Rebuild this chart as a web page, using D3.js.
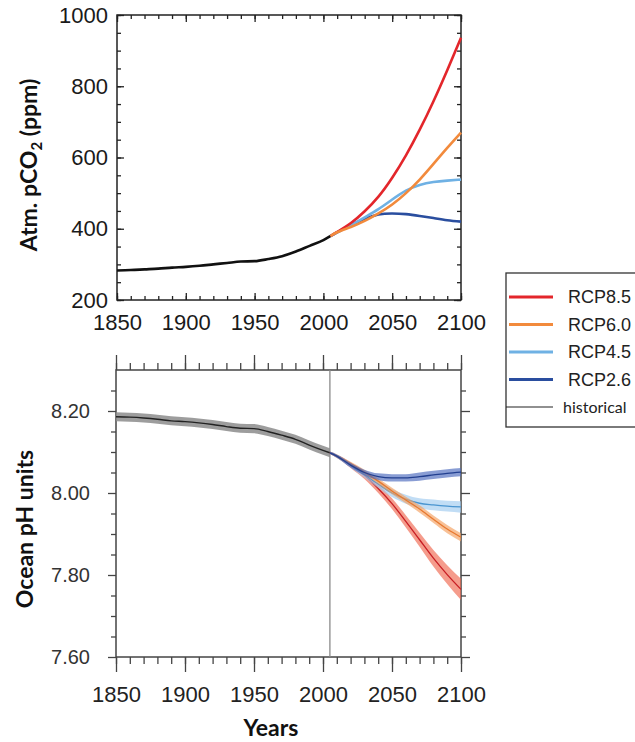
<!DOCTYPE html>
<html>
<head>
<meta charset="utf-8">
<script src="https://cdn.jsdelivr.net/npm/d3@7"></script>
<style>
  body { margin: 0; background: #fff; }
  svg { display: block; }
  .tick text { font-family: "Liberation Sans", Arial, sans-serif; }
  .title { font-family: Lato, "Open Sans", sans-serif; font-weight: bold; fill: #111; }
</style>
</head>
<body>
<svg id="chart" width="635" height="742"></svg>
<script>
// ---- data ----
const histYears = [1850, 1860, 1870, 1880, 1890, 1900, 1910, 1920, 1930, 1940, 1950, 1960, 1970, 1980, 1990, 2000, 2005];
const histCO2   = [283, 284, 286, 288, 291, 293, 296, 300, 304, 308, 309, 315, 323, 336, 352, 368, 379];
const histPH    = [8.186, 8.185, 8.183, 8.180, 8.176, 8.174, 8.171, 8.167, 8.162, 8.158, 8.157, 8.150, 8.141, 8.131, 8.117, 8.104, 8.098];
const histPHband = [0.011, 0.011, 0.011, 0.011, 0.011, 0.011, 0.011, 0.011, 0.011, 0.011, 0.011, 0.011, 0.011, 0.011, 0.011, 0.011, 0.011];

const projYears = [2005, 2010, 2020, 2030, 2040, 2050, 2060, 2070, 2080, 2090, 2100];

const co2_rcp85 = [379, 391, 416, 449, 490, 543, 606, 678, 758, 845, 936];
const co2_rcp60 = [379, 390, 405, 422, 443, 468, 500, 538, 582, 627, 670];
const co2_rcp45 = [379, 390, 410, 432, 455, 482, 507, 523, 531, 535, 538];
const co2_rcp26 = [379, 390, 410, 428, 440, 443, 441, 436, 430, 424, 420];

const ph_rcp85 = [8.098, 8.090, 8.068, 8.043, 8.011, 7.974, 7.931, 7.886, 7.841, 7.801, 7.765];
const ph_rcp60 = [8.098, 8.090, 8.071, 8.051, 8.029, 8.005, 7.983, 7.961, 7.936, 7.912, 7.892];
const ph_rcp45 = [8.098, 8.090, 8.068, 8.045, 8.022, 8.000, 7.985, 7.975, 7.971, 7.968, 7.966];
const ph_rcp26 = [8.098, 8.090, 8.068, 8.050, 8.040, 8.037, 8.037, 8.040, 8.044, 8.048, 8.051];

const band_rcp85 = [0.003, 0.004, 0.007, 0.009, 0.011, 0.013, 0.015, 0.017, 0.020, 0.023, 0.026];
const band_rcp60 = [0.003, 0.004, 0.005, 0.006, 0.007, 0.008, 0.008, 0.009, 0.009, 0.010, 0.010];
const band_rcp45 = [0.003, 0.004, 0.006, 0.008, 0.009, 0.010, 0.011, 0.012, 0.013, 0.013, 0.014];
const band_rcp26 = [0.003, 0.004, 0.006, 0.007, 0.008, 0.009, 0.009, 0.010, 0.010, 0.010, 0.010];

const scenarios = ["RCP8.5", "RCP6.0", "RCP4.5", "RCP2.6"];
const lineColors = ["#e3262b", "#f28a3c", "#6fb1e4", "#2a4e9f"];
const bandColors = ["#f0674f", "#f5a060", "#9fcbef", "#4a68bd"];
const phLineColors = ["#c81e24", "#e8782e", "#4a95d0", "#223f8f"];

const co2Series = [co2_rcp85, co2_rcp60, co2_rcp45, co2_rcp26];
const phSeries = [ph_rcp85, ph_rcp60, ph_rcp45, ph_rcp26];
const phBands = [band_rcp85, band_rcp60, band_rcp45, band_rcp26];

const legendNames = scenarios.concat(["historical"]);

const svg = d3.select("#chart");

// ---------------- top panel: atmospheric pCO2 ----------------
let topBox = {left: 117, right: 461, top: 15, bottom: 300};
let xTop = d3.scaleLinear().domain([1850, 2100]).range([topBox.left, topBox.right]);
let yTop = d3.scaleLinear().domain([200, 1000]).range([topBox.bottom, topBox.top]);

let gTop = svg.append("g");

let minorYears = d3.range(1850, 2101, 10);
let majorYears = d3.range(1850, 2101, 50);

function tickAxis(g, axis, color) {
    g.call(axis);
    g.select(".domain").remove();
    g.selectAll(".tick line").attr("stroke", color).attr("stroke-width", 1.3);
    return g;
}

// minor ticks inward
tickAxis(gTop.append("g").attr("transform", "translate(0," + topBox.bottom + ")"),
    d3.axisBottom(xTop).tickValues(minorYears).tickSize(-4).tickFormat(""), "#222");
tickAxis(gTop.append("g").attr("transform", "translate(0," + topBox.top + ")"),
    d3.axisTop(xTop).tickValues(minorYears).tickSize(-4).tickFormat(""), "#222");
tickAxis(gTop.append("g").attr("transform", "translate(" + topBox.left + ",0)"),
    d3.axisLeft(yTop).tickValues(d3.range(200, 1001, 50)).tickSize(-4).tickFormat(""), "#222");
tickAxis(gTop.append("g").attr("transform", "translate(" + topBox.right + ",0)"),
    d3.axisRight(yTop).tickValues(d3.range(200, 1001, 50)).tickSize(-4).tickFormat(""), "#222");

// major ticks + labels
let xAxisTop = tickAxis(gTop.append("g").attr("transform", "translate(0," + topBox.bottom + ")"),
    d3.axisBottom(xTop).tickValues(majorYears).tickSize(-7).tickPadding(14).tickFormat(d3.format("d")), "#222");
let yAxisTop = tickAxis(gTop.append("g").attr("transform", "translate(" + topBox.left + ",0)"),
    d3.axisLeft(yTop).tickValues(d3.range(200, 1001, 200)).tickSize(-7).tickPadding(9).tickFormat(d3.format("d")), "#222");
tickAxis(gTop.append("g").attr("transform", "translate(" + topBox.right + ",0)"),
    d3.axisRight(yTop).tickValues(d3.range(200, 1001, 200)).tickSize(-7).tickFormat(""), "#222");
tickAxis(gTop.append("g").attr("transform", "translate(0," + topBox.top + ")"),
    d3.axisTop(xTop).tickValues(majorYears).tickSize(-7).tickFormat(""), "#222");

xAxisTop.selectAll("text").attr("font-size", 22).attr("fill", "#1a1a1a");
yAxisTop.selectAll("text").attr("font-size", 22).attr("fill", "#1a1a1a");

gTop.append("rect")
    .attr("x", topBox.left).attr("y", topBox.top)
    .attr("width", topBox.right - topBox.left).attr("height", topBox.bottom - topBox.top)
    .attr("fill", "none").attr("stroke", "#222").attr("stroke-width", 1.5);

let lineTop = d3.line().curve(d3.curveNatural)
    .x(d => xTop(d[0])).y(d => yTop(d[1]));

// draw order as in the picture: 2.6, 4.5, 8.5, 6.0
[3, 2, 0, 1].forEach(function(i) {
    gTop.append("path")
        .datum(projYears.map((y, j) => [y, co2Series[i][j]]))
        .attr("d", lineTop)
        .attr("fill", "none")
        .attr("stroke", lineColors[i])
        .attr("stroke-width", 2.6);
});

gTop.append("path")
    .datum(histYears.map((y, j) => [y, histCO2[j]]))
    .attr("d", d3.line().curve(d3.curveMonotoneX).x(d => xTop(d[0])).y(d => yTop(d[1])))
    .attr("fill", "none")
    .attr("stroke", "#111")
    .attr("stroke-width", 2.6);

let co2Label = gTop.append("text")
    .attr("class", "title")
    .attr("transform", "translate(37,165) rotate(-90)")
    .attr("text-anchor", "middle")
    .attr("font-size", 23);
co2Label.append("tspan").text("Atm. pCO");
co2Label.append("tspan").attr("font-size", 15).attr("dy", 5).text("2");
co2Label.append("tspan").attr("dy", -5).text(" (ppm)");

// ---------------- bottom panel: ocean pH ----------------
let botBox = {left: 116, right: 461, top: 370, bottom: 657};
let xBot = d3.scaleLinear().domain([1850, 2100]).range([botBox.left, botBox.right]);
let yBot = d3.scaleLinear().domain([7.6, 8.3]).range([botBox.bottom, botBox.top]);

let gBot = svg.append("g");
let axisColor = "#444";
let phMinor = [7.65, 7.70, 7.75, 7.85, 7.90, 7.95, 8.05, 8.10, 8.15, 8.25];
let phMajor = [7.6, 7.8, 8.0, 8.2];

tickAxis(gBot.append("g").attr("transform", "translate(0," + botBox.bottom + ")"),
    d3.axisBottom(xBot).tickValues(minorYears).tickSize(7).tickFormat(""), axisColor);
tickAxis(gBot.append("g").attr("transform", "translate(0," + botBox.top + ")"),
    d3.axisTop(xBot).tickValues(minorYears).tickSize(7).tickFormat(""), axisColor);
tickAxis(gBot.append("g").attr("transform", "translate(" + botBox.left + ",0)"),
    d3.axisLeft(yBot).tickValues(phMinor).tickSize(5).tickFormat(""), axisColor);
tickAxis(gBot.append("g").attr("transform", "translate(" + botBox.right + ",0)"),
    d3.axisRight(yBot).tickValues(phMinor).tickSize(5).tickFormat(""), axisColor);

let xAxisBot = tickAxis(gBot.append("g").attr("transform", "translate(0," + botBox.bottom + ")"),
    d3.axisBottom(xBot).tickValues(majorYears).tickSize(15).tickPadding(14).tickFormat(d3.format("d")), axisColor);
tickAxis(gBot.append("g").attr("transform", "translate(0," + botBox.top + ")"),
    d3.axisTop(xBot).tickValues(majorYears).tickSize(15).tickFormat(""), axisColor);
let yAxisBot = tickAxis(gBot.append("g").attr("transform", "translate(" + botBox.left + ",0)"),
    d3.axisLeft(yBot).tickValues(phMajor).tickSize(8).tickPadding(18).tickFormat(d3.format(".2f")), axisColor);
tickAxis(gBot.append("g").attr("transform", "translate(" + botBox.right + ",0)"),
    d3.axisRight(yBot).tickValues(phMajor).tickSize(9).tickFormat(""), axisColor);

xAxisBot.selectAll("text").attr("font-size", 22).attr("fill", "#222");
yAxisBot.selectAll("text").attr("font-size", 20).attr("fill", "#333");

gBot.append("rect")
    .attr("x", botBox.left).attr("y", botBox.top)
    .attr("width", botBox.right - botBox.left).attr("height", botBox.bottom - botBox.top)
    .attr("fill", "none").attr("stroke", axisColor).attr("stroke-width", 1.5);

// start of the projections
gBot.append("line")
    .attr("x1", xBot(2005)).attr("x2", xBot(2005))
    .attr("y1", botBox.top).attr("y2", botBox.bottom)
    .attr("stroke", "#8a8a8a").attr("stroke-width", 1.3);

let areaBot = d3.area().curve(d3.curveMonotoneX)
    .x(d => xBot(d[0])).y0(d => yBot(d[1] - d[2])).y1(d => yBot(d[1] + d[2]));
let lineBot = d3.line().curve(d3.curveMonotoneX)
    .x(d => xBot(d[0])).y(d => yBot(d[1]));

// historical
let histData = histYears.map((y, j) => [y, histPH[j], histPHband[j]]);
gBot.append("path").datum(histData).attr("d", areaBot)
    .attr("fill", "#8c8c8c").attr("fill-opacity", 0.85);
gBot.append("path").datum(histData).attr("d", lineBot)
    .attr("fill", "none").attr("stroke", "#222").attr("stroke-width", 1.4);

[0, 2, 1, 3].forEach(function(i) {
    let data = projYears.map((y, j) => [y, phSeries[i][j], phBands[i][j]]);
    gBot.append("path").datum(data).attr("d", areaBot)
        .attr("fill", bandColors[i]).attr("fill-opacity", 0.65);
    gBot.append("path").datum(data).attr("d", lineBot)
        .attr("fill", "none").attr("stroke", phLineColors[i]).attr("stroke-width", 1.3);
});

gBot.append("text")
    .attr("class", "title")
    .attr("transform", "translate(33,529) rotate(-90)")
    .attr("text-anchor", "middle")
    .attr("font-size", 23)
    .text("Ocean pH units");

gBot.append("text")
    .attr("class", "title")
    .attr("x", 271).attr("y", 736)
    .attr("text-anchor", "middle")
    .attr("font-size", 23)
    .text("Years");

// ---------------- legend ----------------
let legend = svg.append("g").attr("transform", "translate(506,273)");
legend.append("rect")
    .attr("x", 0).attr("y", 0).attr("width", 140).attr("height", 154)
    .attr("fill", "#fff").attr("stroke", "#333").attr("stroke-width", 1.3);

let items = legend.selectAll("g.item").data(legendNames).enter()
    .append("g").attr("class", "item")
    .attr("transform", (d, i) => "translate(0," + (24 + i * 27.5) + ")");

items.append("line")
    .attr("x1", (d, i) => i < 4 ? 3 : 0)
    .attr("x2", 47)
    .attr("stroke", (d, i) => i < 4 ? lineColors[i] : "#222")
    .attr("stroke-width", (d, i) => i < 4 ? 3 : 1.2);

items.append("text")
    .attr("x", (d, i) => i < 4 ? 62 : 57)
    .attr("dy", "0.35em")
    .attr("font-family", (d, i) => i < 4 ? "Liberation Sans, Arial, sans-serif" : "Lato, 'Open Sans', sans-serif")
    .attr("font-size", (d, i) => i < 4 ? 18 : 16)
    .attr("fill", "#222")
    .text(d => d);
</script>
</body>
</html>
